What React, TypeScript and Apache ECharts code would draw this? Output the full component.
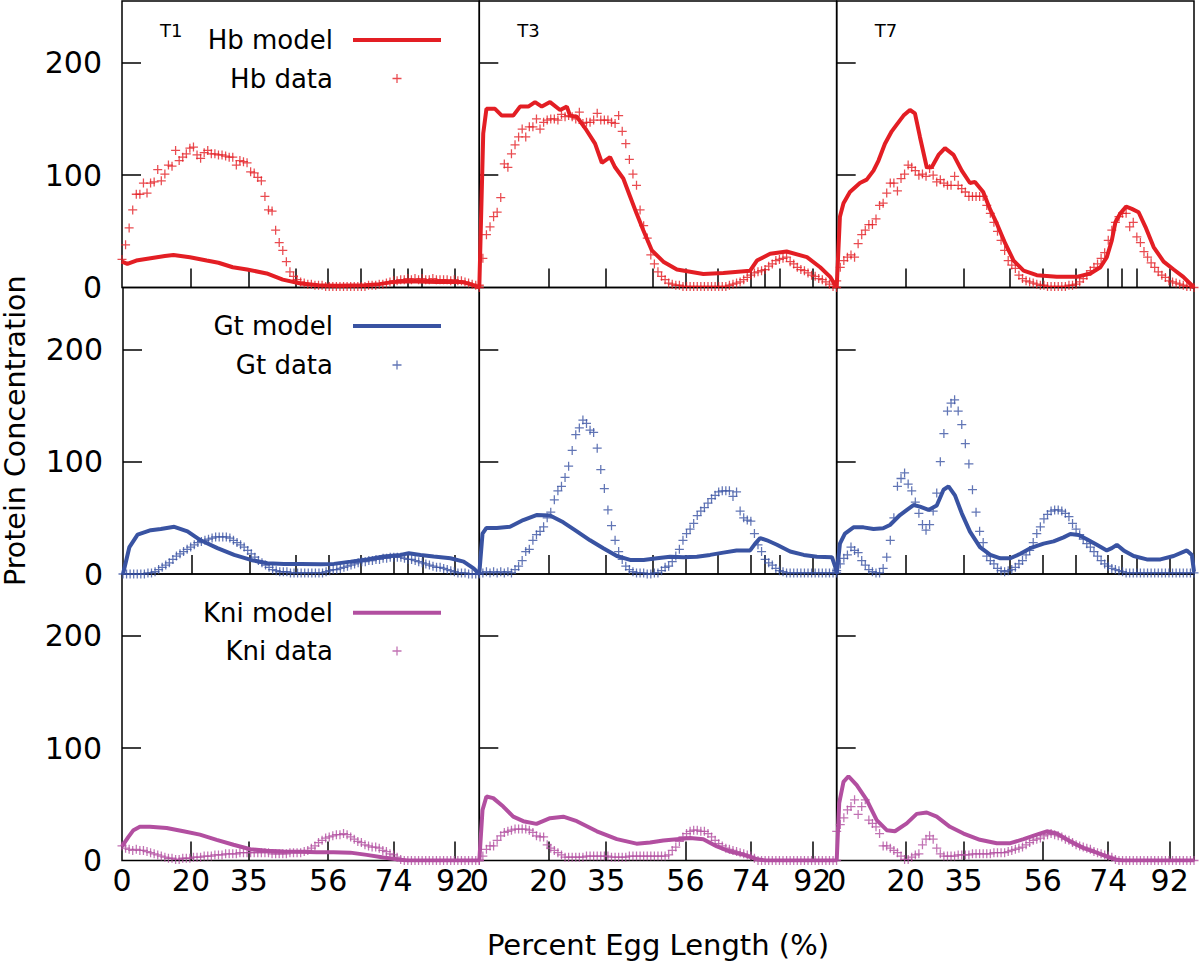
import React, { useEffect, useRef } from "react";
import * as echarts from "echarts";

const FONT = "DejaVu Sans";
const PLUS = "path://M4.3,0H5.7V4.3H10V5.7H5.7V10H4.3V5.7H0V4.3H4.3Z";

const timeLabels = ["T1", "T3", "T7"];
const proteins = ["Hb", "Gt", "Kni"];
const colors = ["#e31e24", "#3953a2", "#b24fa0"];

// x ticks (positions along the axis, 0..100) and their labels
const tickPositions = [19.3, 35.5, 57.7, 76.0, 93.2];
const tickLabels = ["20", "35", "56", "74", "92"];
const extraTickPositions = [48.5, 66.8, 79.9, 84.0];
const yTickValues = [0, 100, 200];
const yInnerTicks = [100, 200];

// ---------- model curves: [position, concentration] ----------
const t1HbModel = [[0,23],[1.5,21],[4,24],[8,26],[12,28],[14.4,29],[19,27],[23.7,24],[27,22],[31,18],[35,16],[40.5,12.5],[45,7],[50,3.5],[55,2],[60,1.5],[68,2],[72,3],[76,5],[80,5.5],[88,5],[95,5],[97.5,3],[100,0]];
const t3HbModel = [[0,0],[1.1,137],[2,159],[4.4,159],[6.3,153],[9.5,153],[11.4,161],[13.7,161],[15.6,165],[17.5,161],[19.8,165],[22.6,158],[24.5,161],[25.4,153],[27.3,152],[30,140],[32.4,128],[34.3,111],[36.6,116],[38,107],[40.3,97],[42.2,81],[44,66],[45.9,51],[48.3,33],[51.5,23],[55.3,16],[62.7,12],[68.3,13],[75.8,15],[77.7,24],[81.4,30],[86,32],[91.7,27],[95.4,18],[98.2,9.5],[100,0]];
const t7HbModel = [[0,0],[0.9,63],[1.9,75],[3.7,85],[6.5,93],[8.4,96],[10.3,104],[11.7,113],[13.5,128],[15.4,139],[16.8,145],[18.7,153],[20.5,158],[21.9,155],[23.3,134],[25.2,107],[26.6,107],[28.5,118],[30.3,124],[32.7,118],[35,104],[37.3,93],[38.7,94],[41,85],[43,69],[44.8,57],[47.2,39],[49.5,24],[52.3,15],[56,11],[61.6,9.5],[67.2,9.5],[71,12.5],[73.8,18],[75.6,27],[77,42],[78,58],[79.4,66],[81,72],[82.6,70],[84.5,67],[86.4,54],[88.7,36],[91.5,23],[94.3,16],[97,9.5],[100,0]];

const t1GtModel = [[0,0],[1.8,24],[4.1,35],[7.8,39],[10.6,40],[14.4,42],[18.1,38],[21.8,30],[26.5,23],[31.2,17],[35.9,12.5],[40.5,9.5],[45.2,9],[50,9],[55.5,8.6],[59.2,9],[63.9,11],[68.5,13],[73.2,15.5],[77.9,17],[80.2,18.4],[83.5,17],[87.2,15.5],[91.9,14],[95.6,11],[98.4,5],[100,0]];
const t3GtModel = [[0,0.5],[0.9,36],[2,41],[4.9,41],[8.6,42],[12.3,48],[16,52.5],[19.8,52],[23.5,46],[27.3,38],[31,30],[34.7,23],[38.5,16],[42.2,12.5],[46,12.5],[49.7,14],[53.4,15.4],[57.1,15],[60.9,15.4],[64.6,17],[68.3,19],[72,21],[75.8,21],[77.2,27],[78.6,32],[80.5,30],[83.3,26],[87,20],[90.8,17],[94.5,15.4],[98.7,15],[99.6,6.5],[100,0.5]];
const t7GtModel = [[0,0],[0.9,27],[2.3,36],[4.7,41.5],[7.5,41.5],[10.3,40],[13,40.7],[14.9,43.6],[17.7,52.5],[21.5,61.4],[23.3,60],[25.7,57],[28,61],[29.9,75],[31.3,78],[33.1,70],[35,54],[37.3,37.7],[40.1,24],[43,17],[45.8,14],[48.6,14],[51.4,18],[54.2,23],[57.9,27],[60.7,29],[63.5,32.6],[65.4,35.6],[67.7,34.7],[70,31],[72.8,26],[75.6,21],[77,23],[78.4,26],[80.3,21],[83.1,16],[86.8,13],[90.6,13],[94.3,16],[98,21],[99.4,17],[100,2]];

const t1KniModel = [[0,12.5],[1.8,21],[3.2,27],[5,30],[7.8,30],[12.5,29],[17.2,26],[21.8,23],[26.5,18.4],[31.2,14],[35.9,10],[40.5,8.6],[45.2,8],[50,7.7],[54.5,7.4],[59.2,7.4],[63.9,7],[68.5,5],[73.2,2.7],[77.9,0.6],[80,0],[100,0]];
const t3KniModel = [[0,0],[0.9,45],[2,57],[3.9,55.5],[6.7,48],[9.5,39],[12.3,35],[16,32.6],[19.8,37.7],[23.5,39],[27.3,35],[32.9,26],[38.5,19],[44,15],[47.8,16],[51.5,17.8],[55.3,19],[59,20],[62.7,19],[66.5,12.5],[70.2,8],[74,5],[77.7,1.2],[80,0],[100,0]];
const t7KniModel = [[0,0],[0.7,51],[1.9,70],[3.3,75],[5.6,67],[8.4,54],[11.2,36],[14,27],[16.3,26],[19.6,33],[22.4,41.5],[25.2,42.7],[28,39],[31.7,30],[35.5,24],[40.1,18.4],[44.8,15.4],[48.6,15.4],[52.3,19],[56,23],[58.8,26],[61.6,24],[65.4,17],[69.1,11],[72.8,7],[75.6,3.5],[78.4,0.6],[80,0],[100,0]];

// ---------- measured data: one value per position 0..100 ----------
const t1HbData = [
  25,38,53,69,83,83,93,84,93,94,
  105,95,101,109,108,122,113,116,119,124,
  125,118,115,120,122,119,119,118,118,117,
  116,116,109,113,112,111,103,102,98,95,
  81,69,68,51,40,33,23,14,10,7,
  5,4,3,3,2,2,2,1,1,1,
  1,1,1,1,1,1,1,1,1,2,
  2,2,3,3,4,5,6,6,7,7,
  8,7,8,7,8,7,7,8,7,7,
  7,7,6,7,6,6,5,4,3,2,
  0];
const t3HbData = [
  2,26,47,54,63,67,80,110,107,119,
  127,134,141,134,143,143,150,141,147,149,
  150,150,149,154,152,153,152,150,156,146,
  147,147,149,155,149,149,149,147,146,153,
  139,128,114,101,91,69,55,44,29,21,
  14,10,7,4,3,2,2,1,1,1,
  1,1,1,1,1,1,1,1,1,1,
  2,3,4,5,7,9,11,13,14,15,
  16,19,21,24,25,26,27,23,21,18,
  16,15,13,11,10,8,7,5,3,1,
  0];
const t7HbData = [
  6,18,24,27,29,27,39,47,51,56,
  56,61,73,75,84,93,93,86,97,101,
  109,107,104,100,101,99,106,100,94,96,
  93,91,91,99,91,88,85,81,81,81,
  81,81,73,66,58,50,42,33,24,20,
  17,11,8,6,5,4,3,2,2,1,
  1,1,1,1,1,2,2,3,5,8,
  11,15,18,21,26,31,42,51,58,63,
  66,66,54,58,45,40,32,27,22,18,
  14,11,9,6,5,4,3,2,1,1,
  0];

const t1GtData = [
  0,0,0,0,0,0,0,1,1,2,
  4,6,8,10,13,16,18,20,22,24,
  26,28,29,30,31,32,33,33,33,33,
  32,30,28,26,24,21,18,15,12,10,
  8,6,4,3,2,2,2,1,1,1,
  1,1,1,1,1,1,1,2,3,4,
  4,5,6,7,8,9,10,11,11,12,
  12,13,13,14,14,15,15,15,15,14,
  13,13,12,11,10,9,8,7,6,6,
  5,4,3,2,1,1,1,0,0,0,
  0];
const t3GtData = [
  1,1,2,1,2,1,2,1,2,1,
  4,7,12,20,22,30,35,38,42,50,
  55,66,74,78,86,96,110,124,130,137,
  134,128,126,112,93,76,57,43,30,20,
  13,7,4,2,1,1,1,0,0,1,
  1,3,6,7,11,16,22,30,36,40,
  45,52,56,59,63,67,70,73,74,74,
  74,69,73,56,50,48,47,36,26,20,
  13,10,8,5,3,2,1,1,1,1,
  1,1,1,1,1,1,1,1,1,1,
  1];
const t7GtData = [
  3,9,14,17,24,21,19,12,8,4,
  2,1,1,5,15,30,50,78,85,90,
  80,74,64,54,44,39,44,56,72,100,
  125,145,152,155,145,133,116,98,75,55,
  38,28,16,12,9,5,3,2,3,4,
  6,9,12,17,21,28,36,42,49,53,
  56,57,57,56,54,51,45,40,35,31,
  27,24,20,16,12,9,7,5,4,3,
  2,1,1,1,1,1,1,1,1,1,
  1,1,1,1,1,1,1,1,1,1,
  1];

const t1KniData = [
  13,11,10,9,10,9,9,8,7,6,
  5,4,3,2,2,1,1,2,2,2,
  3,3,3,4,4,4,5,5,5,6,
  6,6,6,7,7,7,7,7,7,7,
  7,7,6,6,6,6,6,7,7,7,
  7,8,9,11,13,16,18,20,21,22,
  23,23,24,23,21,19,17,16,14,13,
  12,12,11,9,8,6,5,3,1,0,
  0,0,0,0,0,0,0,0,0,0,
  0,0,0,0,0,0,0,0,0,0,
  0];
const t3KniData = [
  0,4,10,13,13,18,22,25,26,27,
  28,28,28,28,27,25,22,21,21,14,
  11,9,7,5,3,3,3,3,3,3,
  4,4,4,4,4,4,4,3,3,3,
  3,3,4,4,4,4,4,4,4,4,
  4,4,4,5,9,12,17,21,24,26,
  27,27,26,26,24,21,18,15,13,11,
  10,9,8,7,6,5,4,2,0,0,
  0,0,0,0,0,0,0,0,0,0,
  0,0,0,0,0,0,0,0,0,0,
  0];
const t7KniData = [
  26,32,38,45,48,54,41,48,54,36,
  33,30,24,13,13,11,9,7,4,1,
  1,3,5,6,14,19,22,19,11,6,
  4,4,4,4,5,5,5,5,6,6,
  6,6,6,6,7,7,7,7,8,9,
  10,11,12,14,16,18,19,20,22,23,
  24,23,22,21,19,18,16,14,13,12,
  11,10,8,7,6,5,4,3,1,0,
  0,0,0,0,0,0,0,0,0,0,
  0,0,0,0,0,0,0,0,0,0,
  0];

const modelRows = [
  [t1HbModel, t3HbModel, t7HbModel],
  [t1GtModel, t3GtModel, t7GtModel],
  [t1KniModel, t3KniModel, t7KniModel],
];
const dataRows = [
  [t1HbData, t3HbData, t7HbData],
  [t1GtData, t3GtData, t7GtData],
  [t1KniData, t3KniData, t7KniData],
];

// layout
const colLeft = [122, 479.3, 836.7];
const colWidth = 357.3;
const rowTop = [1, 287.5, 574];
const rowHeight = 286.5;
const legendTop = [25, 311, 597.7];
const legendGap = [8.5, 9, 8.3];

const xLabelValues = [0, ...tickPositions];
const xLabelTexts = ["0", ...tickLabels];
const topTicks = [...tickPositions, ...extraTickPositions].sort((a, b) => a - b);

function buildOption() {
  const grid: any[] = [];
  const xAxis: any[] = [];
  const yAxis: any[] = [];
  const series: any[] = [];
  for (let r = 0; r < 3; r++) {
    for (let c = 0; c < 3; c++) {
      const i = r * 3 + c;
      grid.push({
        left: colLeft[c], top: rowTop[r], width: colWidth, height: rowHeight,
        show: true, borderColor: "#000", borderWidth: 1.5, backgroundColor: "transparent",
      });
      const xa: any = {
        gridIndex: i, type: "value", min: 0, max: 100,
        axisLine: { show: false }, splitLine: { show: false },
        axisTick: { show: true, inside: true, length: 19, lineStyle: { color: "#000", width: 1.5 },
          customValues: r < 2 ? topTicks : tickPositions },
        axisLabel: {
          show: r === 2, customValues: xLabelValues,
          formatter: (v: number) => {
            const k = xLabelValues.findIndex((p) => Math.abs(p - v) < 1e-6);
            return k >= 0 ? xLabelTexts[k] : "";
          },
          fontSize: 30, color: "#000", fontFamily: FONT, margin: 5,
        },
      };
      if (r === 2 && c === 1) {
        xa.name = "Percent Egg Length (%)";
        xa.nameLocation = "middle";
        xa.nameGap = 70;
        xa.nameTextStyle = { fontSize: 29, color: "#000", fontFamily: FONT };
      }
      xAxis.push(xa);
      const ya: any = {
        gridIndex: i, type: "value", min: 0, max: 255,
        axisLine: { show: false }, splitLine: { show: false },
        axisTick: { show: true, inside: true, length: 19, lineStyle: { color: "#000", width: 1.5 },
          customValues: yInnerTicks },
        axisLabel: { show: c === 0, customValues: yTickValues, fontSize: 30, color: "#000", fontFamily: FONT, margin: 20 },
      };
      if (r === 1 && c === 0) {
        ya.name = "Protein Concentration";
        ya.nameLocation = "middle";
        ya.nameGap = 93;
        ya.nameRotate = 90;
        ya.nameTextStyle = { fontSize: 28.5, color: "#000", fontFamily: FONT };
      }
      yAxis.push(ya);
      series.push({
        type: "line", name: `${proteins[r]} model`, xAxisIndex: i, yAxisIndex: i,
        data: modelRows[r][c], symbol: "none", showSymbol: false,
        lineStyle: { width: 4, color: colors[r] }, itemStyle: { color: colors[r] }, z: 2,
      });
      series.push({
        type: "scatter", name: `${proteins[r]} data`, xAxisIndex: i, yAxisIndex: i,
        data: dataRows[r][c].map((v, k) => [k, v]), symbol: PLUS, symbolSize: 9,
        symbolKeepAspect: true, itemStyle: { color: colors[r] }, clip: false, z: 3,
      });
    }
  }
  const legend = proteins.map((p, r) => ({
    orient: "vertical", align: "right", right: 757, top: legendTop[r],
    itemWidth: 88, itemHeight: 9, itemGap: legendGap[r], padding: 0, selectedMode: false,
    lineStyle: { width: 4 },
    data: [
      { name: `${p} model`, itemStyle: { opacity: 0 }, lineStyle: { width: 4, color: colors[r], opacity: 1 } },
      { name: `${p} data`, icon: PLUS },
    ],
    textStyle: { fontSize: 26, color: "#000", fontFamily: FONT, padding: [0, 15, 0, 0], lineHeight: 30 },
  }));
  const graphic = timeLabels.map((t, c) => ({
    type: "text", left: colLeft[c] + 38, top: 21,
    style: { text: t, fontSize: 18, fill: "#000", fontFamily: FONT },
  }));
  return { animation: false, backgroundColor: "#fff", grid, xAxis, yAxis, series, legend, graphic };
}

export default function App() {
  const ref = useRef<HTMLDivElement>(null);
  useEffect(() => {
    if (!ref.current) return;
    const chart = echarts.init(ref.current, null, { renderer: "svg" });
    chart.setOption(buildOption() as any);
    return () => chart.dispose();
  }, []);
  return <div ref={ref} style={{ position: "absolute", left: 0, top: 0, width: 1200, height: 973 }} />;
}
